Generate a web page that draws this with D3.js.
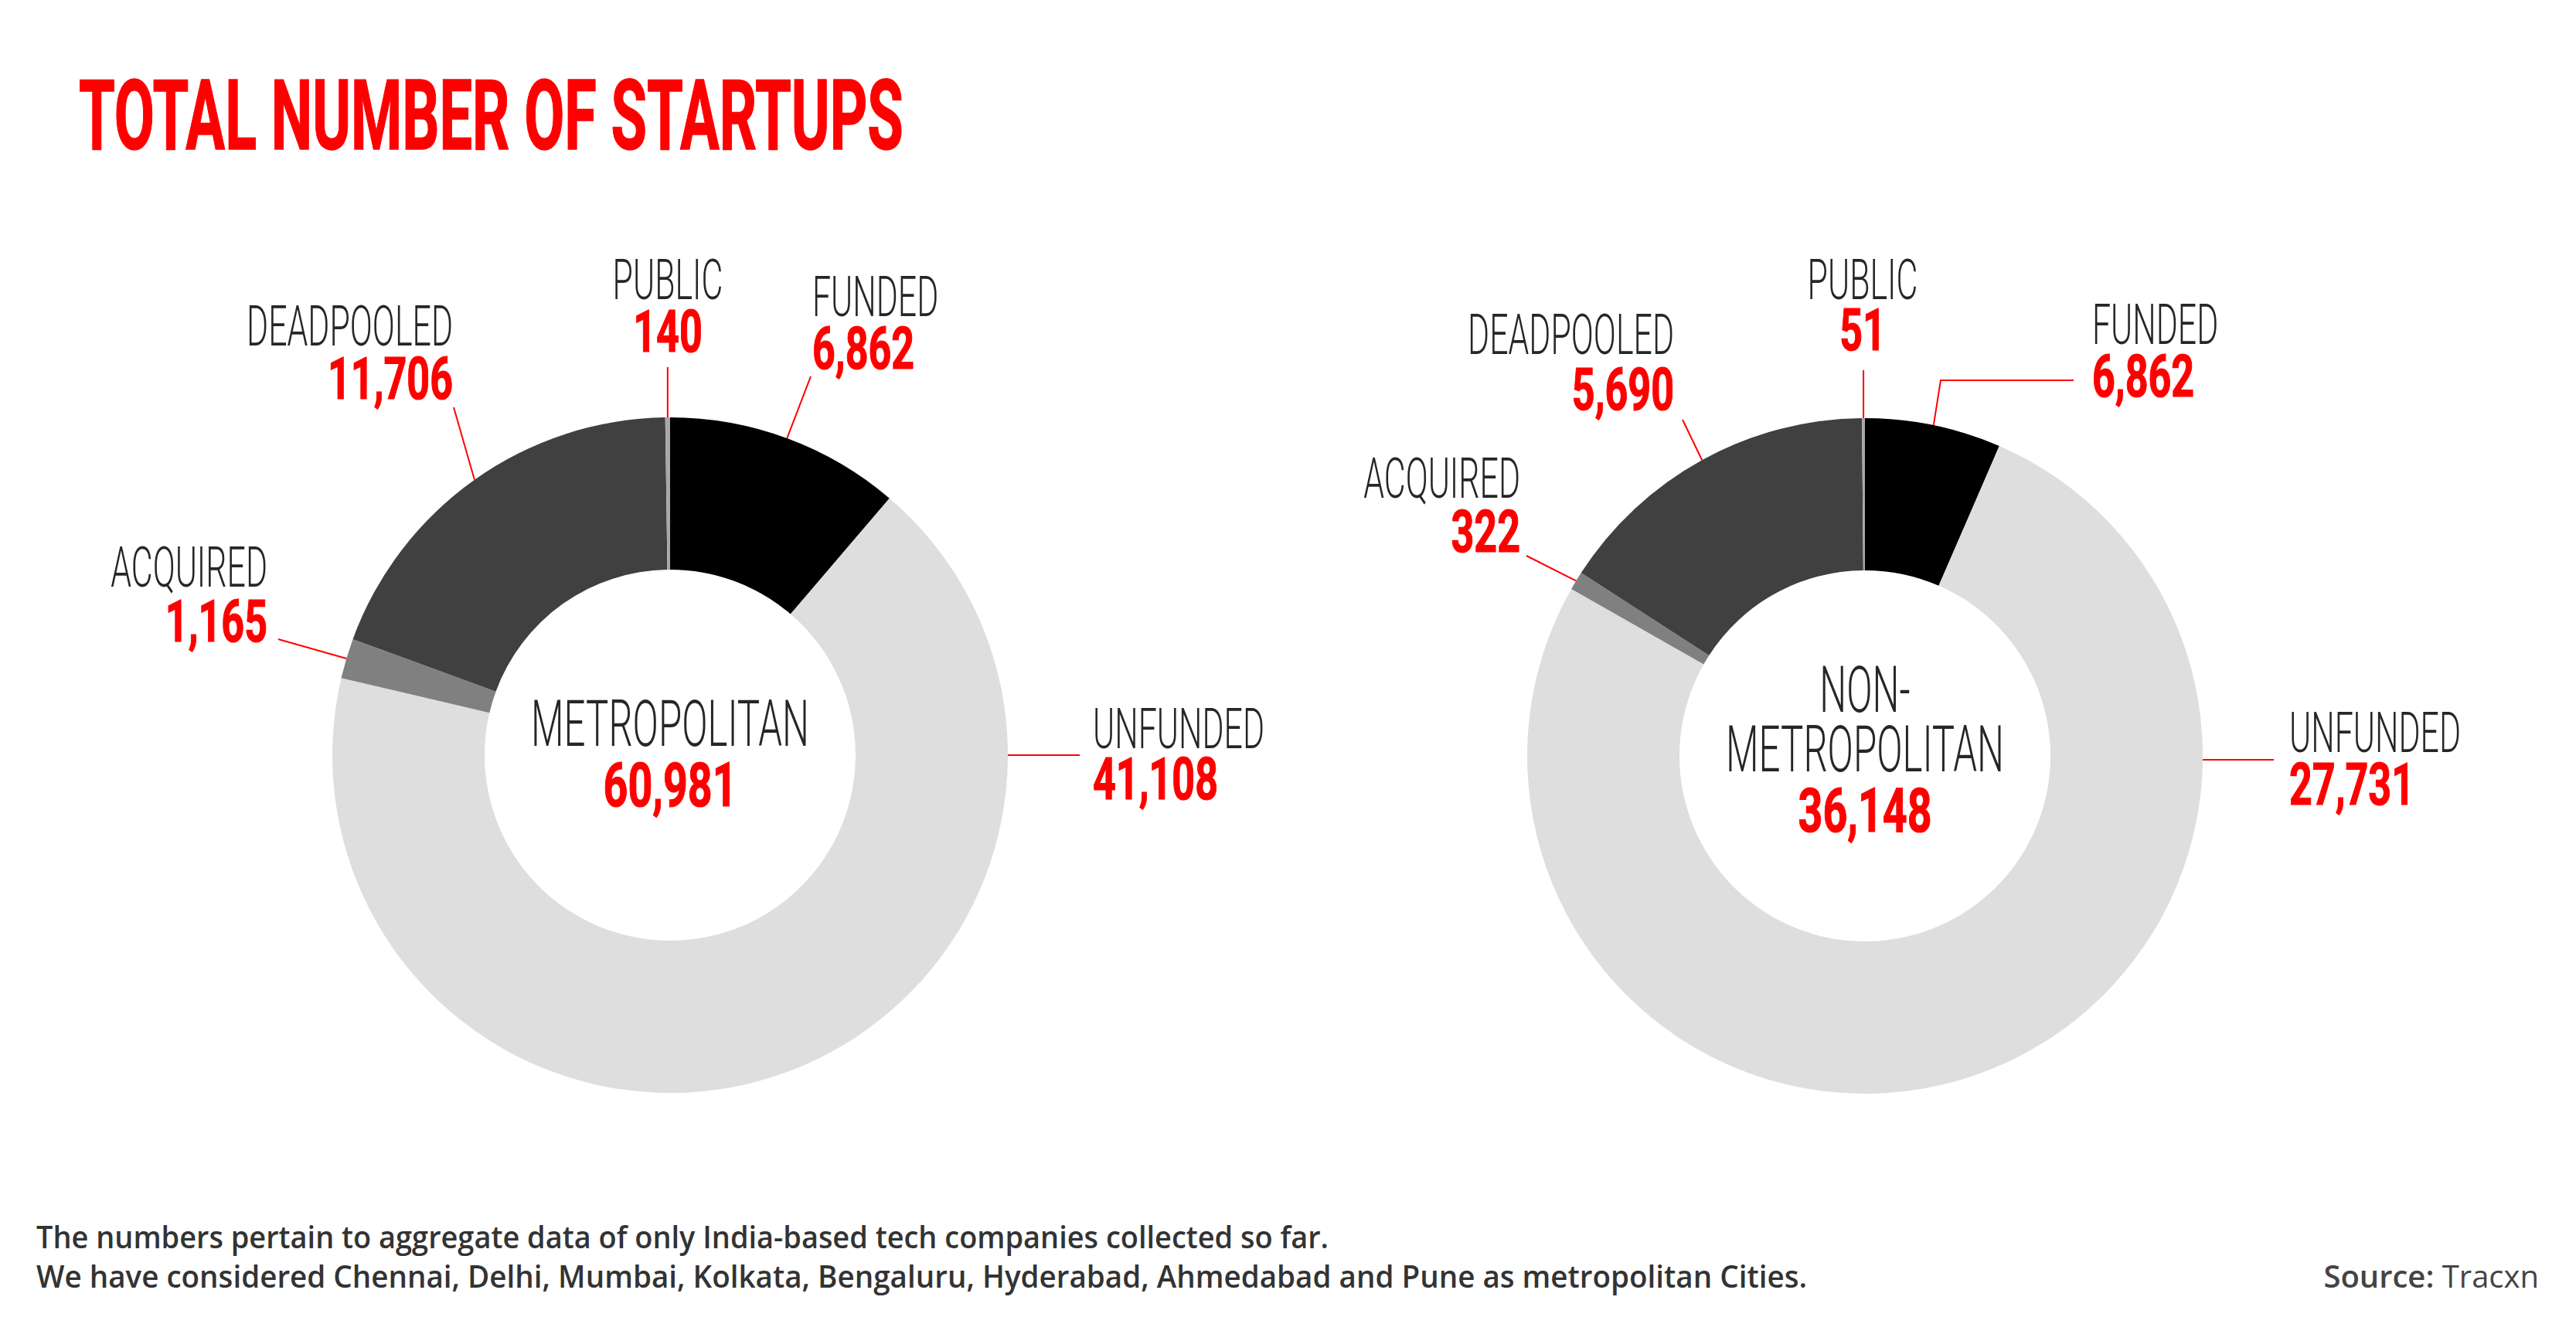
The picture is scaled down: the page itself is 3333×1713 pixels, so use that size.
<!DOCTYPE html>
<html><head><meta charset="utf-8">
<script src="https://cdn.jsdelivr.net/npm/d3@7"></script>
<style>html,body{margin:0;padding:0;background:#fff;} svg{display:block}</style>
</head><body>
<script>
// ---------------- DATA ----------------
const categories = ["FUNDED", "UNFUNDED", "ACQUIRED", "DEADPOOLED", "PUBLIC"];
const metroValues = [6862, 41108, 1165, 11706, 140];
const nonMetroValues = [2354, 27731, 322, 5690, 51];
const metroValueLabels = ["6,862", "41,108", "1,165", "11,706", "140"];
const nonMetroValueLabels = ["6,862", "27,731", "322", "5,690", "51"];
const groupNames = [["METROPOLITAN"], ["NON-", "METROPOLITAN"]];
const groupTotals = [60981, 36148];
const titleText = "TOTAL NUMBER OF STARTUPS";
const notes = [
  "The numbers pertain to aggregate data of only India-based tech companies collected so far.",
  "We have considered Chennai, Delhi, Mumbai, Kolkata, Bengaluru, Hyderabad, Ahmedabad and Pune as metropolitan Cities."
];
const sourceParts = ["Source:", "Tracxn"];

// ---------------- STYLE / LAYOUT ----------------
const W = 3333, H = 1713;
const RED = "#ff0000";
const sliceColor = d3.scaleOrdinal().domain(categories)
  .range(["#000000", "#dedede", "#808080", "#404040", "#a8a8a8"]);
const R_OUT = 437, R_IN = 240;

const layouts = [
  { cx: 867, cy: 977, nameYs: [965], totalY: 1043,
    lab: {
      FUNDED:     { anchor: "start",  x: 1051, y1: 409, y2: 477, end: [1049, 487] },
      UNFUNDED:   { anchor: "start",  x: 1414, y1: 968, y2: 1034, end: [1397, 977], horiz: true },
      ACQUIRED:   { anchor: "end",    x: 346,  y1: 759, y2: 830, end: [360, 827] },
      DEADPOOLED: { anchor: "end",    x: 586,  y1: 447, y2: 516, end: [587, 527] },
      PUBLIC:     { anchor: "middle", x: 864,  y1: 387, y2: 455, end: [null, 475], vert: true }
    } },
  { cx: 2413, cy: 978, nameYs: [921, 998], totalY: 1076,
    lab: {
      FUNDED:     { anchor: "start",  x: 2707, y1: 445, y2: 513, end: [2683, 492], elbow: [2511, 492] },
      UNFUNDED:   { anchor: "start",  x: 2962, y1: 973, y2: 1041, end: [2942, 983], horiz: true },
      ACQUIRED:   { anchor: "end",    x: 1967, y1: 644, y2: 714, end: [1975, 719] },
      DEADPOOLED: { anchor: "end",    x: 2166, y1: 458, y2: 530, end: [2177, 543] },
      PUBLIC:     { anchor: "middle", x: 2410, y1: 387, y2: 453, end: [null, 479], vert: true }
    } }
];

const styles = {
  thinLabel:  { family: "Roboto, 'Open Sans', sans-serif", weight: 300, size: 73, color: "#262626", calib: "UNFUNDED", target: 222, stroke: 0 },
  boldLabel:  { family: "Roboto, 'Open Sans', sans-serif", weight: 700, size: 76, color: RED, calib: "41,108", target: 162, stroke: 1.2 },
  thinCenter: { family: "Roboto, 'Open Sans', sans-serif", weight: 300, size: 83, color: "#262626", calib: "METROPOLITAN", target: 360, stroke: 0 },
  boldCenter: { family: "Roboto, 'Open Sans', sans-serif", weight: 700, size: 80, color: RED, calib: "60,981", target: 173, stroke: 1.2 },
  title:      { family: "Roboto, 'Open Sans', sans-serif", weight: 700, size: 127, color: RED, calib: titleText, target: 1067, stroke: 1.5 }
};

// ---------------- DRAW ----------------
const svg = d3.select("body").append("svg").attr("width", W).attr("height", H);
svg.append("rect").attr("width", W).attr("height", H).attr("fill", "#fff");

// calibrate horizontal condensation factors (condensed display face emulated)
const meas = svg.append("g").attr("opacity", 0);
Object.values(styles).forEach(s => {
  const t = meas.append("text").style("font-family", s.family).style("font-weight", s.weight)
    .style("font-size", s.size + "px").text(s.calib);
  s.k = s.target / t.node().getComputedTextLength();
});
meas.remove();

function cText(g, txt, x, y, anchor, s) {
  const t = g.append("text")
    .attr("transform", `translate(${x},${y}) scale(${s.k},1)`)
    .attr("text-anchor", anchor)
    .style("font-family", s.family).style("font-weight", s.weight)
    .style("font-size", s.size + "px").attr("fill", s.color).text(txt);
  if (s.stroke) t.attr("stroke", s.color).attr("stroke-width", s.stroke);
  return t;
}

// title
cText(svg, titleText, 102, 193, "start", styles.title);

const pie = d3.pie().sort(null).value(d => d.value);
const arc = d3.arc().innerRadius(R_IN).outerRadius(R_OUT);
const datasets = [
  { values: metroValues, labels: metroValueLabels },
  { values: nonMetroValues, labels: nonMetroValueLabels }
];

datasets.forEach((ds, i) => {
  const L = layouts[i];
  const rows = categories.map((c, j) => ({ cat: c, value: ds.values[j], label: ds.labels[j] }));
  const arcs = pie(rows);
  const g = svg.append("g");
  const donut = g.append("g").attr("transform", `translate(${L.cx},${L.cy})`);
  donut.selectAll("path").data(arcs).join("path")
    .attr("d", arc).attr("fill", d => sliceColor(d.data.cat));

  // leaders + labels
  arcs.forEach(a => {
    const lay = L.lab[a.data.cat];
    const mid = (a.startAngle + a.endAngle) / 2;
    let sx = L.cx + R_OUT * Math.sin(mid), sy = L.cy - R_OUT * Math.cos(mid);
    let ex = lay.end[0], ey = lay.end[1];
    if (lay.horiz) { sy = ey; sx = L.cx + Math.sqrt(R_OUT * R_OUT - (ey - L.cy) ** 2); }
    if (lay.vert) { ex = sx; }
    const pts = [[sx, sy]];
    if (lay.elbow) pts.push(lay.elbow);
    pts.push([ex, ey]);
    g.append("path").attr("d", d3.line()(pts)).attr("fill", "none")
      .attr("stroke", RED).attr("stroke-width", 2);
    cText(g, a.data.cat, lay.x, lay.y1, lay.anchor, styles.thinLabel);
    cText(g, a.data.label, lay.x, lay.y2, lay.anchor, styles.boldLabel);
  });

  // centre text
  groupNames[i].forEach((n, k) => cText(g, n, L.cx, L.nameYs[k], "middle", styles.thinCenter));
  cText(g, d3.format(",")(groupTotals[i]), L.cx, L.totalY, "middle", styles.boldCenter);
});

// footer
const foot = svg.append("g").style("font-family", "'Open Sans', sans-serif").style("font-size", "40px").attr("fill", "#333");
foot.append("text").attr("x", 47).attr("y", 1615).style("font-weight", 600)
  .attr("textLength", 1672).attr("lengthAdjust", "spacingAndGlyphs").text(notes[0]);
foot.append("text").attr("x", 47).attr("y", 1666).style("font-weight", 600)
  .attr("textLength", 2291).attr("lengthAdjust", "spacingAndGlyphs").text(notes[1]);
const src = foot.append("text").attr("x", 3285).attr("y", 1666).attr("text-anchor", "end").attr("fill", "#444");
src.append("tspan").style("font-weight", 600).text(sourceParts[0] + " ");
src.append("tspan").style("font-weight", 400).text(sourceParts[1]);
</script>
</body></html>
